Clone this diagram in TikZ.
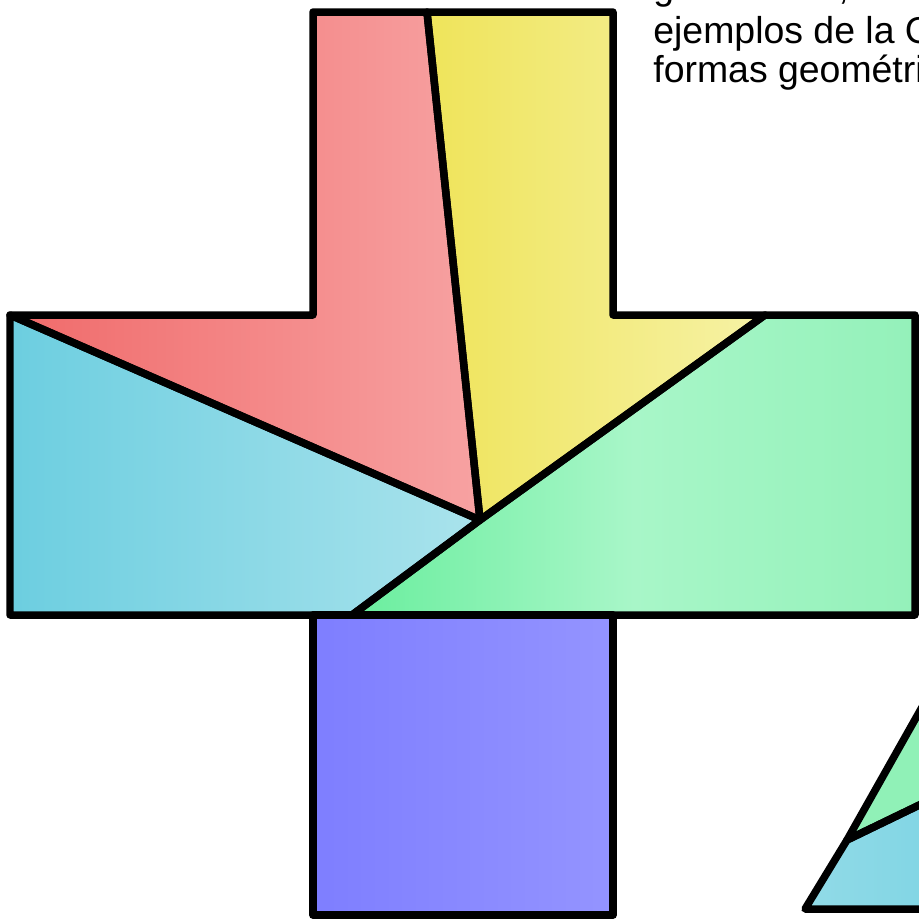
\documentclass[tikz,border=0pt]{standalone}
\usepackage{fontspec}
\setmainfont{Liberation Sans}
\definecolor{redL}{HTML}{F06A6A}
\definecolor{redR}{HTML}{F7A2A2}
\definecolor{yelL}{HTML}{EFE45A}
\definecolor{yelR}{HTML}{F6F2A6}
\definecolor{cyaL}{HTML}{6CCEE0}
\definecolor{cyaR}{HTML}{AAE3EC}
\definecolor{greL}{HTML}{6AEE9E}
\definecolor{greM}{HTML}{A8F6C8}
\definecolor{greR}{HTML}{94F1BA}
\definecolor{bluL}{HTML}{7E7EFF}
\definecolor{bluR}{HTML}{9494FF}

\begin{document}
\begin{tikzpicture}[x=0.02cm, y=-0.02cm,
		piece/.style={draw=black, line width=0.15cm, line join=round},
		caption/.style={anchor=base west, inner sep=0pt, font=\fontsize{21.3pt}{21.3pt}\selectfont}]
		\useasboundingbox (0,0) rectangle (919,920);
		\clip (0,0) rectangle (919,920);
		
		% corners of the cross
		\coordinate (1) at (10,315);
		\coordinate (2) at (313,315);
		\coordinate (3) at (313,12);
		\coordinate (4) at (427,12);
		\coordinate (5) at (613,12);
		\coordinate (6) at (613,315);
		\coordinate (7) at (765,315);
		\coordinate (8) at (915,315);
		\coordinate (9) at (915,615);
		\coordinate (10) at (613,615);
		\coordinate (11) at (613,915);
		\coordinate (12) at (313,915);
		\coordinate (13) at (313,615);
		\coordinate (14) at (352,615);
		\coordinate (15) at (10,615);
		\coordinate (c) at (480,520);
		
		% small triangle
		\coordinate (t1) at (805,909);
		\coordinate (t2) at (847,840);
		\coordinate (t3) at (1000,569);
		\coordinate (t4) at (1000,766);
		\coordinate (t5) at (1000,909);
		
		\shade[left color=redL, right color=redR] (1) -- (2) -- (3) -- (4) -- (c) -- cycle;
		\shade[left color=yelL, right color=yelR] (4) -- (5) -- (6) -- (7) -- (c) -- cycle;
		\shade[left color=cyaL, right color=cyaR] (1) -- (c) -- (14) -- (15) -- cycle;
		\shade[left color=greL, right color=greR, middle color=greM] (14) -- (c) -- (7) -- (8) -- (9) -- cycle;
		\shade[left color=bluL, right color=bluR] (13) -- (10) -- (11) -- (12) -- cycle;
		\fill[greR!90!greL] (t2) -- (t3) -- (t4) -- cycle;
		\shade[left color=cyaR!60!cyaL, right color=cyaL!80!cyaR] (t1) -- (t2) -- (t4) -- (t5) -- cycle;
		
		\draw[piece] (1) -- (2) -- (3) -- (4) -- (c) -- cycle;
		\draw[piece] (4) -- (5) -- (6) -- (7) -- (c) -- cycle;
		\draw[piece] (1) -- (c) -- (14) -- (15) -- cycle;
		\draw[piece] (14) -- (c) -- (7) -- (8) -- (9) -- cycle;
		\draw[piece] (13) -- (10) -- (11) -- (12) -- cycle;
		\draw[piece] (t2) -- (t3) -- (t4) -- cycle;
		\draw[piece] (t1) -- (t2) -- (t4) -- (t5) -- cycle;
		
		\node[caption] (l1) at (653,-1) {geométrica, son};
		\node[caption] (l2) at (653,43) {ejemplos de la Geometría};
		\node[caption] (l3) at (653,82) {formas geométricas};
		
	\end{tikzpicture}
\end{document}
